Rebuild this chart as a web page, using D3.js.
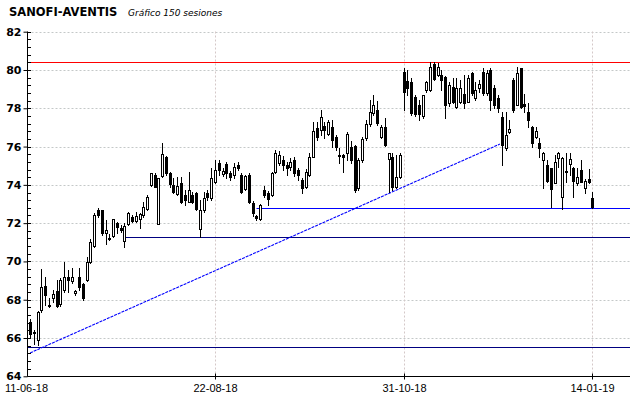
<!DOCTYPE html>
<html>
<head>
<meta charset="utf-8">
<script src="https://cdn.jsdelivr.net/npm/d3@7"></script>
<style>
  html, body { margin: 0; padding: 0; background: #fff; }
  svg { display: block; }
</style>
</head>
<body>
<script>
// 150 sesiones, de 11-06-18 a 14-01-19
const open = [
  66.85,66.31,65.89,67.46,68.71,67.70,68.07,68.45,67.77,68.50,
  69.20,68.99,68.33,69.17,68.82,69.03,69.98,70.80,72.68,72.68,
  71.47,71.24,71.33,71.99,71.73,71.08,71.95,72.30,72.12,72.20,
  72.42,72.74,73.99,74.51,71.95,74.46,75.44,74.60,73.99,73.52,
  74.08,73.47,73.12,73.47,73.59,71.68,72.68,73.59,73.30,74.16,
  75.14,74.56,75.09,74.60,74.51,75.04,74.51,73.77,74.51,73.07,
  72.37,72.20,73.73,73.59,73.47,74.68,75.16,75.30,75.04,74.95,
  75.30,74.77,74.25,73.90,74.51,75.47,76.95,76.86,77.07,76.65,
  77.04,76.48,75.56,75.56,75.65,75.99,76.03,73.82,75.30,76.43,
  77.18,77.74,77.91,76.48,77.04,75.33,75.47,73.90,74.42,79.89,
  79.42,79.39,78.60,78.17,77.61,78.95,78.95,80.30,79.74,79.74,
  79.65,78.26,79.13,78.08,78.34,78.73,78.34,79.83,78.52,79.07,
  79.91,78.78,80.00,79.04,78.52,77.56,75.94,76.78,79.48,78.17,
  80.09,78.21,77.82,77.04,76.51,76.17,75.30,75.04,74.86,74.11,
  75.42,73.38,74.70,75.07,74.89,74.08,74.77,73.85,74.30,73.30
];
const close = [
  66.20,66.28,67.34,68.64,68.25,67.66,68.30,67.67,69.03,69.20,
  69.03,69.17,68.45,68.64,68.07,69.98,71.03,72.42,72.42,71.47,
  71.64,71.15,72.20,71.81,71.64,71.85,72.51,72.12,72.37,72.47,
  72.82,73.38,74.60,73.90,74.34,75.61,74.60,74.04,73.64,73.94,
  73.12,73.21,73.73,73.12,72.72,72.68,73.30,73.38,74.34,74.77,
  74.77,74.74,74.60,74.42,74.95,74.86,73.64,74.46,73.12,72.51,
  72.25,72.94,73.47,73.24,74.60,75.68,75.56,75.04,74.86,75.21,
  74.60,74.51,73.82,74.68,75.47,76.83,76.51,77.56,76.86,77.30,
  76.34,75.96,75.50,75.47,76.65,75.30,73.73,75.30,76.38,77.18,
  77.82,78.17,77.21,77.04,76.08,75.65,73.90,74.42,75.56,78.85,
  79.04,77.74,77.68,77.68,78.69,79.39,80.17,79.53,80.17,79.48,
  78.17,79.21,78.34,79.04,79.04,78.26,79.57,78.78,78.95,79.25,
  78.78,79.83,78.43,78.17,78.00,76.08,76.60,76.92,77.91,79.83,
  78.08,78.13,77.39,76.17,76.81,75.91,75.65,74.20,73.78,75.21,
  75.65,75.42,74.68,75.35,74.20,74.42,74.16,74.20,74.13,72.86
];
const high = [
  66.97,66.40,67.40,69.59,69.20,68.07,68.50,69.03,69.12,69.98,
  69.55,69.64,68.50,69.64,68.85,70.24,71.15,72.51,72.77,72.70,
  72.16,71.41,72.22,72.07,71.90,72.00,72.59,72.42,72.59,72.54,
  73.12,73.47,74.63,74.63,74.36,76.17,75.50,74.68,74.34,74.42,
  74.42,73.73,74.68,73.64,73.64,73.21,73.64,73.73,74.86,75.30,
  75.30,74.88,75.19,74.72,75.14,75.19,74.62,74.51,74.62,73.15,
  72.42,73.00,73.94,73.68,74.67,75.82,75.78,75.51,75.19,75.40,
  75.45,74.88,74.36,74.83,75.66,77.30,77.30,77.91,77.30,77.39,
  77.39,76.60,75.91,75.60,76.78,76.29,76.08,75.40,76.50,77.39,
  78.43,78.69,78.38,77.12,77.48,75.67,75.65,75.56,75.65,80.10,
  80.00,79.58,78.69,78.43,78.70,79.40,80.43,80.42,80.36,80.00,
  79.70,79.37,79.58,79.58,79.48,79.74,79.74,79.91,79.39,79.48,
  80.09,80.00,80.09,79.21,78.69,77.82,77.82,77.39,79.57,80.17,
  80.12,78.73,78.26,77.06,77.04,76.43,75.73,75.30,74.88,75.56,
  75.73,75.47,75.65,75.65,74.91,74.86,75.30,74.30,74.83,73.64
];
const low = [
  65.98,65.70,65.63,67.37,67.72,67.60,67.89,67.63,67.67,68.41,
  68.41,68.85,68.25,68.50,67.98,69.00,69.93,70.77,72.33,71.38,
  70.90,71.12,71.28,71.47,71.53,70.77,71.90,72.06,72.07,71.73,
  72.33,72.68,73.94,73.87,71.93,74.42,74.51,73.90,73.56,73.47,
  73.07,72.94,73.10,73.03,72.68,71.26,72.59,73.21,73.21,74.09,
  74.51,74.46,74.34,74.25,74.35,74.77,73.57,73.73,73.05,72.37,
  72.19,72.16,73.36,72.94,73.42,74.62,75.04,74.77,74.51,74.77,
  74.46,74.25,73.59,73.83,74.46,75.45,76.34,76.60,76.43,76.60,
  75.96,75.82,75.12,74.68,75.30,75.14,73.64,73.73,75.19,76.34,
  77.07,77.65,77.12,76.43,76.03,73.64,73.73,73.83,74.34,77.91,
  78.69,77.65,77.60,77.39,77.49,78.86,78.90,79.48,79.69,78.95,
  77.48,78.12,78.27,78.00,78.27,78.03,78.32,78.69,78.43,78.87,
  78.69,78.69,77.91,78.00,77.82,75.04,75.82,76.69,77.82,78.15,
  78.03,77.82,77.04,75.99,76.43,75.47,73.82,74.16,72.86,74.08,
  74.95,72.74,74.16,74.51,73.38,73.99,74.15,73.57,74.08,72.77
];

// etiquetas del eje de fechas (índice de sesión)
const dateTicks = [0, 49, 99, 149];
const dateLabels = ["11-06-18", "22-08-18", "31-10-18", "14-01-19"];
const priceTicks = [64, 66, 68, 70, 72, 74, 76, 78, 80, 82];

// líneas horizontales: nivel y sesión de inicio (null = desde el eje)
const levelValues = [80.40, 72.77, 71.26, 65.53];
const levelStart = [null, 60, 25, null];
const levelColors = ["#ff0000", "#0000ff", "#000080", "#000080"];

// línea de tendencia: [sesión, precio]
const trendFrom = [0, 65.22];
const trendTo = [124.5, 76.13];

const W = 640, H = 398;
const axisX = 27.5, rightX = 630, topY = 31.5, bottomY = 376.5;

const svg = d3.select("body").append("svg")
  .attr("width", W)
  .attr("height", H);

const x = d3.scaleLinear().domain([0, 149]).range([30.1, 592.3]);
const y = d3.scaleLinear().domain([64, 82]).range([376.3, 31.7]);
const py = v => Math.round(y(v)) + 0.5;
const px = i => Math.round(x(i)) + 0.5;

// título
svg.append("text")
  .attr("x", 9).attr("y", 16)
  .style("font", "bold 11.5px 'DejaVu Sans'")
  .text("SANOFI-AVENTIS");
svg.append("text")
  .attr("x", 128).attr("y", 16)
  .style("font", "italic 9px 'DejaVu Sans'")
  .text("Gráfico 150 sesiones");

// rejilla
svg.append("g").selectAll("line")
  .data(priceTicks.filter(d => d > 64))
  .enter().append("line")
  .attr("x1", axisX).attr("x2", rightX)
  .attr("y1", d => py(d)).attr("y2", d => py(d))
  .attr("stroke", "#c4c8c8")
  .attr("stroke-dasharray", "2,2");

svg.append("g").selectAll("line")
  .data(dateTicks.slice(1))
  .enter().append("line")
  .attr("x1", d => px(d)).attr("x2", d => px(d))
  .attr("y1", topY).attr("y2", bottomY)
  .attr("stroke", "#d4c8c8")
  .attr("stroke-dasharray", "2,2");

// soportes / resistencias
svg.append("g").selectAll("line")
  .data(levelValues)
  .enter().append("line")
  .attr("x1", (d, k) => levelStart[k] === null ? axisX : px(levelStart[k]))
  .attr("x2", rightX)
  .attr("y1", d => py(d)).attr("y2", d => py(d))
  .attr("stroke", (d, k) => levelColors[k])
  .attr("stroke-width", 1);

// tendencia
svg.append("line")
  .attr("x1", x(trendFrom[0])).attr("y1", y(trendFrom[1]))
  .attr("x2", x(trendTo[0])).attr("y2", y(trendTo[1]))
  .attr("stroke", "#0000ff")
  .attr("stroke-width", 1.1)
  .attr("stroke-dasharray", "3,1");

// velas
const candles = d3.range(open.length).map(i => ({
  i: i, o: open[i], h: high[i], l: low[i], c: close[i]
}));

const g = svg.append("g").attr("shape-rendering", "crispEdges");

g.selectAll(".wick")
  .data(candles)
  .enter().append("line")
  .attr("class", "wick")
  .attr("x1", d => px(d.i)).attr("x2", d => px(d.i))
  .attr("y1", d => Math.round(y(d.h)))
  .attr("y2", d => Math.round(y(d.l)) + 1)
  .attr("stroke", "#000");

g.selectAll(".body")
  .data(candles)
  .enter().append("rect")
  .attr("class", "body")
  .attr("x", d => px(d.i) - 1)
  .attr("y", d => Math.round(y(Math.max(d.o, d.c))) + 0.5)
  .attr("width", 2)
  .attr("height", d => Math.max(1, Math.round(y(Math.min(d.o, d.c))) - Math.round(y(Math.max(d.o, d.c)))))
  .attr("fill", d => d.c >= d.o ? "#fff" : "#000")
  .attr("stroke", "#000");

// ejes
const yAxis = d3.axisLeft(y)
  .tickValues(priceTicks)
  .tickSize(4)
  .tickPadding(2)
  .tickFormat(d3.format("d"));
const ya = svg.append("g")
  .attr("transform", `translate(${axisX},0)`)
  .call(yAxis);
ya.select(".domain").remove();
ya.selectAll(".tick line").attr("stroke", "#000");
ya.selectAll(".tick text")
  .style("font", "bold 11px 'DejaVu Sans'")
  .attr("fill", "#000");

const minor = d3.range(0, 46).map(k => 64 + k * 0.4);
svg.append("g").selectAll("line")
  .data(minor)
  .enter().append("line")
  .attr("x1", axisX).attr("x2", axisX + 3.5)
  .attr("y1", d => py(d)).attr("y2", d => py(d))
  .attr("stroke", "#000");

const xAxis = d3.axisBottom(x)
  .tickValues(dateTicks)
  .tickSize(3)
  .tickPadding(5)
  .tickFormat((d, k) => dateLabels[k]);
const xa = svg.append("g")
  .attr("transform", `translate(0,${bottomY})`)
  .call(xAxis);
xa.select(".domain").remove();
xa.selectAll(".tick").attr("transform", d => `translate(${d === 0 ? axisX - 1 : px(d)},0)`);
xa.selectAll(".tick line").attr("y1", -3).attr("stroke", d => d === 0 ? "none" : "#000");
xa.selectAll(".tick text")
  .style("font", "11px 'Liberation Sans'")
  .attr("fill", "#000");

svg.append("line")
  .attr("x1", axisX).attr("x2", axisX)
  .attr("y1", topY).attr("y2", bottomY)
  .attr("stroke", "#000");
svg.append("line")
  .attr("x1", axisX).attr("x2", rightX)
  .attr("y1", bottomY).attr("y2", bottomY)
  .attr("stroke", "#000");
</script>
</body>
</html>
